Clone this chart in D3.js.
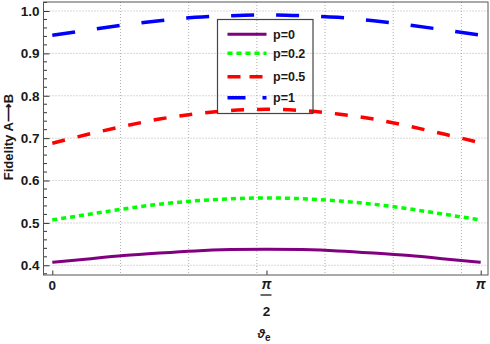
<!DOCTYPE html>
<html>
<head>
<meta charset="utf-8">
<script src="https://cdn.jsdelivr.net/npm/d3@7"></script>
<style>
  body { margin: 0; background: #fff; }
  text { font-family: "Liberation Sans", Arial, sans-serif; font-weight: bold; fill: #1a1a1a; }
</style>
</head>
<body>
<div id="chart"></div>
<script>

// Chart size and plot frame
const width = 490;
const height = 344;
const frame = {left: 43.5, right: 488, top: 2, bottom: 275};

// Sample positions along theta_e, as fractions of pi
const thetaFrac = [0, 1/12, 2/12, 3/12, 4/12, 5/12, 6/12, 7/12, 8/12, 9/12, 10/12, 11/12, 1];

// Fidelity, one array per p
const fidP0  = [0.407, 0.415, 0.423, 0.429, 0.434, 0.437, 0.438, 0.437, 0.434, 0.429, 0.423, 0.415, 0.407];
const fidP02 = [0.507, 0.520, 0.533, 0.544, 0.552, 0.557, 0.559, 0.557, 0.552, 0.544, 0.533, 0.520, 0.507];
const fidP05 = [0.688, 0.709, 0.728, 0.745, 0.757, 0.765, 0.768, 0.765, 0.757, 0.745, 0.728, 0.709, 0.689];
const fidP1  = [0.943, 0.955, 0.967, 0.977, 0.985, 0.989, 0.991, 0.989, 0.985, 0.977, 0.967, 0.955, 0.943];

const seriesNames = ["p=0", "p=0.2", "p=0.5", "p=1"];

// Tick values
const yTicks = [0.4, 0.5, 0.6, 0.7, 0.8, 0.9, 1.0];
const xGrid = [0.5, 1.0, 1.5, 2.0, 2.5, 3.0];

const svg = d3.select("#chart")
  .append("svg")
  .attr("width", width)
  .attr("height", height);

// Scales
const xScale = d3.scaleLinear()
  .domain([-0.0645, 3.1951])
  .range([frame.left, frame.right]);

const yScale = d3.scaleLinear()
  .domain([0.3771, 1.0212])
  .range([frame.bottom, frame.top]);

// Gridlines
svg.append("g")
  .selectAll("line")
  .data(xGrid)
  .join("line")
    .attr("x1", d => xScale(d)).attr("x2", d => xScale(d))
    .attr("y1", frame.top).attr("y2", frame.bottom)
    .attr("stroke", "#b0b0b0")
    .attr("stroke-dasharray", "1,2");

svg.append("g")
  .selectAll("line")
  .data(yTicks)
  .join("line")
    .attr("x1", frame.left).attr("x2", frame.right)
    .attr("y1", d => yScale(d)).attr("y2", d => yScale(d))
    .attr("stroke", "#b0b0b0")
    .attr("stroke-dasharray", "1,2");

// Y axis (ticks pointing inward)
const yMinor = d3.range(0.38, 1.021, 0.02).filter(v => Math.abs(v * 10 - Math.round(v * 10)) > 0.01);
const yAxis = svg.append("g")
  .attr("transform", `translate(${frame.left},0)`)
  .call(d3.axisRight(yScale).tickValues(yTicks).tickSize(6).tickFormat(d3.format(".1f")));
yAxis.select(".domain").remove();
yAxis.selectAll(".tick line").attr("stroke", "#333");
yAxis.selectAll(".tick text")
  .attr("x", -4)
  .attr("text-anchor", "end")
  .attr("font-size", "13.5px")
  .attr("fill", "#1a1a1a");
yAxis.selectAll(".minor")
  .data(yMinor)
  .join("line")
    .attr("class", "minor")
    .attr("x1", 0).attr("x2", 3.5)
    .attr("y1", d => yScale(d)).attr("y2", d => yScale(d))
    .attr("stroke", "#333");

// X axis (ticks pointing inward)
const xTicks = [0, Math.PI / 2, Math.PI];
const xAxis = svg.append("g")
  .attr("transform", `translate(0,${frame.bottom})`)
  .call(d3.axisTop(xScale).tickValues(xTicks).tickSize(4.5).tickFormat(""));
xAxis.select(".domain").remove();
xAxis.selectAll(".tick line").attr("stroke", "#333");

svg.append("text")
  .attr("x", xScale(0)).attr("y", 290)
  .attr("text-anchor", "middle").attr("font-size", "13.5px")
  .text("0");
svg.append("text")
  .attr("x", xScale(Math.PI)).attr("y", 289)
  .attr("text-anchor", "middle").attr("font-size", "14px")
  .attr("font-family", "DejaVu Serif").attr("font-style", "italic")
  .text("π");
svg.append("text")
  .attr("x", xScale(Math.PI / 2)).attr("y", 289)
  .attr("text-anchor", "middle").attr("font-size", "14px")
  .attr("font-family", "DejaVu Serif").attr("font-style", "italic")
  .text("π");
svg.append("line")
  .attr("x1", xScale(Math.PI / 2) - 6).attr("x2", xScale(Math.PI / 2) + 5)
  .attr("y1", 295).attr("y2", 295)
  .attr("stroke", "#1a1a1a").attr("stroke-width", 1.3);
svg.append("text")
  .attr("x", xScale(Math.PI / 2)).attr("y", 316)
  .attr("text-anchor", "middle").attr("font-size", "13.5px")
  .text("2");

// Axis titles
const xTitle = svg.append("text")
  .attr("x", 264).attr("y", 338)
  .attr("text-anchor", "middle").attr("font-size", "13px");
xTitle.append("tspan").attr("font-style", "italic").text("ϑ");
xTitle.append("tspan").attr("dy", 3).attr("font-size", "10px").text("e");

svg.append("text")
  .attr("transform", "translate(13,137) rotate(-90)")
  .attr("text-anchor", "middle")
  .attr("font-size", "13px")
  .text("Fidelity A⟶B");

// Frame
svg.append("rect")
  .attr("x", frame.left).attr("y", frame.top)
  .attr("width", frame.right - frame.left)
  .attr("height", frame.bottom - frame.top)
  .attr("fill", "none")
  .attr("stroke", "#555");

// Curves
const series = [
  {name: seriesNames[0], values: fidP0,  color: "#800080", dash: null,    legendDash: null,    w: 3},
  {name: seriesNames[1], values: fidP02, color: "#00ff00", dash: "5,4",   legendDash: "5,4",   w: 3.5},
  {name: seriesNames[2], values: fidP05, color: "#ff0000", dash: "13,13", legendDash: "13,9",  w: 3.5},
  {name: seriesNames[3], values: fidP1,  color: "#0000ff", dash: "23,22", legendDash: "18,17", w: 3.5}
];

const line = d3.line()
  .x((d, i) => xScale(thetaFrac[i] * Math.PI))
  .y(d => yScale(d))
  .curve(d3.curveNatural);

svg.append("g")
  .selectAll("path")
  .data(series)
  .join("path")
    .attr("d", d => line(d.values))
    .attr("fill", "none")
    .attr("stroke", d => d.color)
    .attr("stroke-width", d => d.w)
    .attr("stroke-dasharray", d => d.dash);

// Legend (no fill, gridlines show through)
const legendRows = [34.3, 53.3, 76.7, 97.7];
const legend = svg.append("g");
legend.append("rect")
  .attr("x", 217.5).attr("y", 19.5)
  .attr("width", 95.5).attr("height", 94)
  .attr("fill", "none")
  .attr("stroke", "#444")
  .attr("stroke-width", 1.2);

const entry = legend.selectAll(".entry")
  .data(series)
  .join("g")
    .attr("class", "entry")
    .attr("transform", (d, i) => `translate(0,${legendRows[i]})`);
entry.append("line")
  .attr("x1", 227.5).attr("x2", 266.5)
  .attr("stroke", d => d.color)
  .attr("stroke-width", d => d.w)
  .attr("stroke-dasharray", d => d.legendDash);
entry.append("text")
  .attr("x", 273).attr("y", 4.5)
  .attr("font-size", "12.5px")
  .text(d => d.name);

</script>
</body>
</html>
